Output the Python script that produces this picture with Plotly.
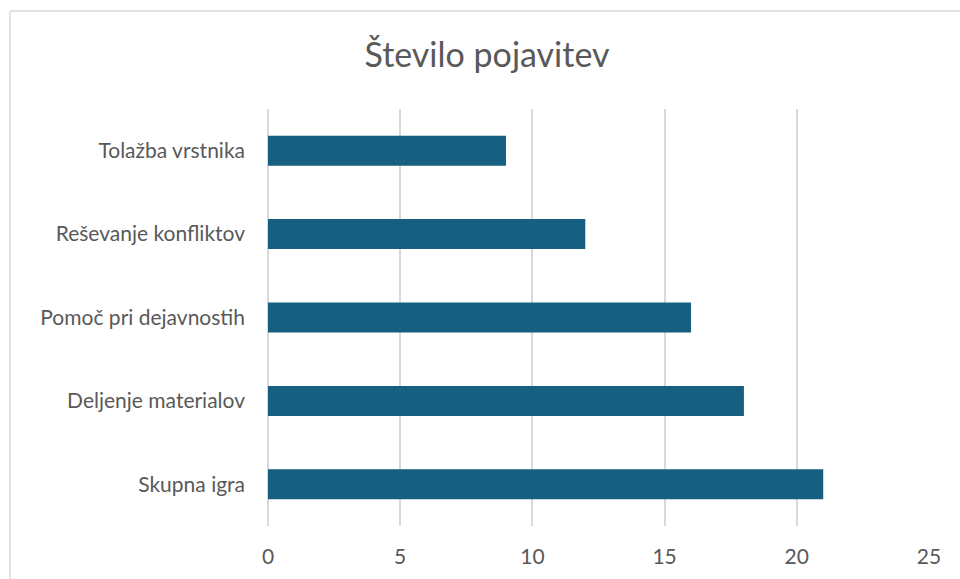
import plotly.graph_objects as go

categories = ["Skupna igra", "Deljenje materialov", "Pomoč pri dejavnostih", "Reševanje konfliktov", "Tolažba vrstnika"]
values = [21, 18, 16, 12, 9]
x_ticks = [0, 5, 10, 15, 20, 25]

W, H = 960, 579
L, R, T, B = 268, 31, 109, 53
pw, ph = W - L - R, H - T - B

fig = go.Figure(go.Bar(
    x=values, y=categories, orientation="h",
    marker=dict(color="#175F80", line=dict(width=0)),
))

font_family = "Lato, 'Open Sans', sans-serif"
fig.update_layout(
    width=W, height=H,
    margin=dict(l=L, r=R, t=T, b=B),
    paper_bgcolor="white", plot_bgcolor="white",
    bargap=0.64,
    showlegend=False,
    title=dict(text="Število pojavitev", x=487 / W, xref="container", xanchor="center",
               y=1 - 55 / H, yref="container", yanchor="middle",
               font=dict(family=font_family, size=34, color="#595959")),
    xaxis=dict(range=[0, 25], tickvals=x_ticks, showgrid=True, gridcolor="#D9D9D9", gridwidth=2,
               zeroline=True, zerolinecolor="#D9D9D9", zerolinewidth=2,
               showline=False, ticks="",
               tickfont=dict(family=font_family, size=21, color="#595959"),
               ticklabelstandoff=16, fixedrange=True),
    yaxis=dict(categoryorder="array", categoryarray=categories, showgrid=False, zeroline=False,
               showline=False, ticks="",
               tickfont=dict(family=font_family, size=21, color="#595959"),
               ticklabelstandoff=22, fixedrange=True),
    shapes=[
        dict(type="line", xref="paper", yref="paper",
             x0=(10 - L) / pw, x1=(10 - L) / pw, y0=1 + (T - 11) / ph, y1=-(B + 10) / ph,
             line=dict(color="#D9D9D9", width=1.5)),
        dict(type="line", xref="paper", yref="paper",
             x0=(10 - L) / pw, x1=(W + 10 - L) / pw, y0=1 + (T - 11) / ph, y1=1 + (T - 11) / ph,
             line=dict(color="#D9D9D9", width=1.5)),
    ],
)

fig.write_html("out.html", config={"displayModeBar": False},
               post_script="document.body.style.margin='0';document.body.style.overflow='hidden';")
